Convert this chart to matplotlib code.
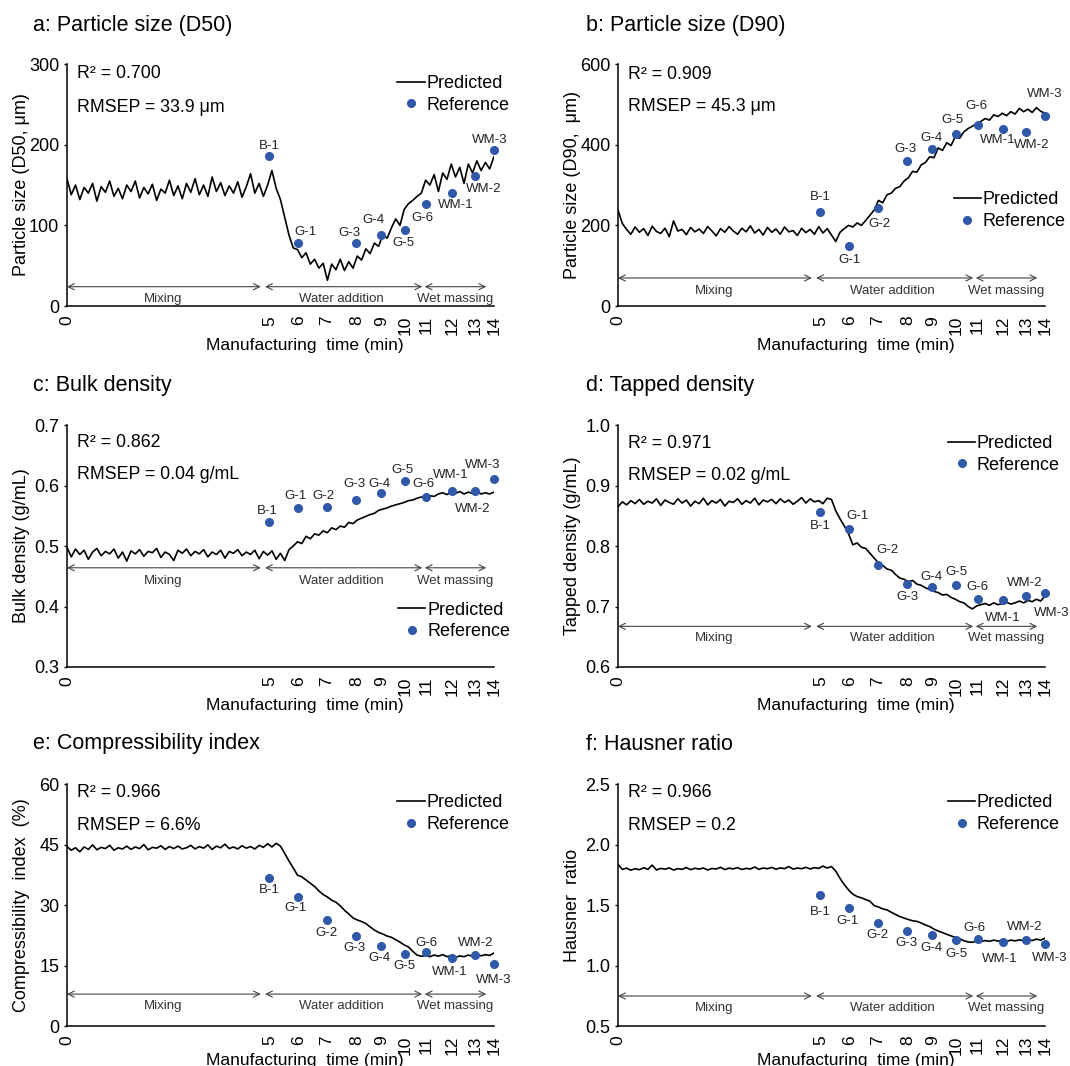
# NIR in-line predictions vs reference values during high-shear granulation
import numpy as np
import matplotlib.pyplot as plt

plt.rcParams['font.family'] = ['Liberation Sans', 'DejaVu Sans']

# x axis is the spectrum number; time labels sit at the sampling points
time_labels = ['0', '5', '6', '7', '8', '9', '10', '11', '12', '13', '14']
time_pos = [0, 237, 271, 304, 339, 368, 396, 421, 451, 478, 500]

sample_names = ['B-1', 'G-1', 'G-2', 'G-3', 'G-4', 'G-5', 'G-6', 'WM-1', 'WM-2', 'WM-3']
sample_pos = time_pos[1:]

pred_x = list(range(0, 505, 5))

d50_pred = [158, 138, 150, 132, 147, 140, 152, 130, 148, 141, 155, 136, 146, 133, 150, 142, 155, 134, 147, 139,
            151, 131, 145, 140, 156, 137, 149, 133, 152, 141, 158, 138, 150, 136, 160, 142, 153, 137, 149, 140,
            154, 135, 148, 164, 140, 152, 136, 150, 168, 146, 132, 110, 88, 72, 70, 60, 66, 52, 58, 47,
            53, 32, 52, 45, 58, 44, 55, 47, 62, 57, 71, 65, 78, 74, 89, 84, 97, 108, 100, 120,
            127, 131, 136, 140, 156, 150, 163, 142, 165, 157, 176, 160, 172, 152, 176, 165, 180, 168, 178, 170,
            185]
d50_ref = [186, 78.6, np.nan, 77.7, 87.5, 94.2, 127, 140, 161, 193.5]

d90_pred = [238, 205, 190, 178, 196, 183, 192, 175, 198, 185, 180, 193, 172, 211, 186, 190, 177, 195, 184, 191,
            180, 197, 186, 174, 192, 183, 197, 186, 178, 193, 184, 199, 181, 190, 176, 195, 183, 191, 178, 196,
            184, 187, 175, 193, 182, 190, 178, 197, 181, 192, 176, 160, 183, 192, 200, 196, 206, 200, 212, 225,
            238, 262, 256, 276, 280, 292, 296, 310, 318, 334, 332, 350, 356, 370, 368, 392, 386, 405, 398, 420,
            416, 432, 440, 446, 452, 458, 465, 461, 474, 470, 478, 472, 482, 476, 490, 482, 488, 480, 492, 483,
            478]
d90_ref = [233, 148, 242, 359, 390, 426, 449, 439, 431, 472]

bulk_pred = [0.498, 0.482, 0.495, 0.486, 0.493, 0.478, 0.490, 0.496, 0.484, 0.491, 0.487, 0.495, 0.480, 0.490,
             0.475, 0.492, 0.487, 0.494, 0.483, 0.491, 0.489, 0.496, 0.481, 0.490, 0.486, 0.476, 0.493, 0.488,
             0.495, 0.484, 0.491, 0.487, 0.494, 0.482, 0.490, 0.486, 0.493, 0.480, 0.491, 0.488, 0.494, 0.484,
             0.490, 0.486, 0.493, 0.479, 0.491, 0.485, 0.492, 0.478, 0.488, 0.476, 0.494, 0.500, 0.507, 0.504,
             0.516, 0.512, 0.520, 0.518, 0.525, 0.522, 0.530, 0.527, 0.533, 0.531, 0.539, 0.537, 0.543, 0.546,
             0.549, 0.552, 0.554, 0.559, 0.561, 0.563, 0.566, 0.568, 0.570, 0.572, 0.575, 0.576, 0.579, 0.581,
             0.580, 0.583, 0.582, 0.586, 0.588, 0.585, 0.589, 0.587, 0.590, 0.586, 0.589, 0.587, 0.590, 0.586,
             0.588, 0.586, 0.589]
bulk_ref = [0.540, 0.562, 0.564, 0.576, 0.588, 0.607, 0.581, 0.591, 0.591, 0.611]

tapped_pred = [0.865, 0.873, 0.868, 0.875, 0.870, 0.877, 0.869, 0.874, 0.871, 0.878, 0.867, 0.876, 0.872, 0.869,
               0.878, 0.871, 0.876, 0.866, 0.874, 0.870, 0.879, 0.868, 0.875, 0.871, 0.877, 0.866, 0.874, 0.872,
               0.878, 0.869, 0.875, 0.871, 0.879, 0.868, 0.876, 0.873, 0.877, 0.870, 0.878, 0.872, 0.876, 0.869,
               0.874, 0.880, 0.871, 0.878, 0.873, 0.875, 0.870, 0.879, 0.877, 0.858, 0.845, 0.833, 0.820, 0.802,
               0.805, 0.798, 0.796, 0.788, 0.780, 0.772, 0.768, 0.762, 0.760, 0.753, 0.747, 0.745, 0.741, 0.743,
               0.737, 0.735, 0.731, 0.728, 0.725, 0.723, 0.719, 0.720, 0.715, 0.712, 0.708, 0.706, 0.700, 0.696,
               0.701, 0.703, 0.705, 0.702, 0.706, 0.703, 0.705, 0.707, 0.704, 0.706, 0.709, 0.706, 0.710, 0.708,
               0.712, 0.709, 0.717]
tapped_ref = [0.856, 0.828, 0.769, 0.738, 0.732, 0.736, 0.712, 0.710, 0.717, 0.723]

ci_pred = [44.5, 43.6, 44.2, 43.2, 44.4, 43.8, 44.9, 43.7, 44.3, 44.0, 44.8, 43.6, 44.2, 43.9, 44.6, 43.8, 44.4,
           44.0, 45.0, 43.7, 44.3, 44.1, 44.7, 43.8, 44.5, 44.0, 44.6, 43.9, 44.2, 44.8, 43.9, 44.5, 44.1, 44.9,
           43.8, 44.6, 44.2, 45.1, 44.0, 44.4, 43.9, 44.7, 44.1, 44.5, 43.9, 44.8, 44.3, 45.2, 44.4, 45.3, 44.6,
           42.8, 40.9, 39.2, 37.4, 37.0, 36.2, 35.4, 34.6, 33.5, 32.6, 32.0, 31.2, 30.7, 29.8, 28.7, 27.8, 26.8,
           26.3, 25.9, 25.4, 24.6, 23.8, 23.2, 22.8, 22.3, 22.0, 21.4, 20.8, 20.1, 19.6, 18.5, 17.6, 17.3, 17.5,
           17.2, 17.6, 17.3, 17.7, 17.2, 17.5, 17.0, 17.4, 17.2, 17.6, 17.3, 17.8, 17.4, 17.7, 17.5, 18.1]
ci_ref = [36.8, 31.9, 26.3, 22.2, 19.9, 17.8, 18.3, 16.8, 17.6, 15.3]

hr_pred = [1.836, 1.795, 1.805, 1.788, 1.800, 1.792, 1.808, 1.795, 1.830, 1.790, 1.803, 1.796, 1.807, 1.789,
           1.801, 1.795, 1.810, 1.792, 1.804, 1.797, 1.806, 1.790, 1.802, 1.798, 1.812, 1.793, 1.805, 1.799,
           1.809, 1.794, 1.803, 1.798, 1.814, 1.795, 1.806, 1.800, 1.811, 1.796, 1.807, 1.801, 1.818, 1.797,
           1.806, 1.800, 1.812, 1.798, 1.809, 1.803, 1.822, 1.806, 1.818, 1.780, 1.720, 1.668, 1.625, 1.590,
           1.570, 1.560, 1.545, 1.532, 1.495, 1.484, 1.468, 1.460, 1.440, 1.422, 1.405, 1.392, 1.380, 1.370,
           1.365, 1.352, 1.335, 1.322, 1.301, 1.285, 1.272, 1.258, 1.245, 1.232, 1.222, 1.205, 1.195, 1.192,
           1.203, 1.198, 1.206, 1.200, 1.210, 1.202, 1.207, 1.199, 1.210, 1.204, 1.212, 1.206, 1.214, 1.207,
           1.218, 1.210, 1.226]
hr_ref = [1.582, 1.472, 1.353, 1.282, 1.249, 1.215, 1.220, 1.198, 1.215, 1.175]

phase_names = ['Mixing', 'Water addition', 'Wet massing']
phase_arrows = [(0, 227), (232, 416), (419, 491)]
phase_text_x = [113, 321, 454]

dot_color = '#2f58a8'

# one dict per panel: layout bits
panels = [
    dict(title='a: Particle size (D50)', ylabel='Particle size (D50, μm)', pred=d50_pred, ref=d50_ref,
         ylim=(0, 300), yticks=[0, 100, 200, 300], fmt='{:.0f}', r2='R² = 0.700', rmsep='RMSEP = 33.9 μm',
         stat_y=(0.959, 0.822), leg=(0.774, 0.875), arr_y=(0.08, 0.028),
         offs=[(0, 10), (7, 11), (0, 0), (-7, 10), (-8, 15), (-2, -13), (-4, -14), (4, -12), (9, -13), (-4, 10)]),
    dict(title='b: Particle size (D90)', ylabel='Particle size (D90,  μm)', pred=d90_pred, ref=d90_ref,
         ylim=(0, 600), yticks=[0, 200, 400, 600], fmt='{:.0f}', r2='R² = 0.909', rmsep='RMSEP = 45.3 μm',
         stat_y=(0.957, 0.823), leg=(0.786, 0.394), arr_y=(0.116, 0.063),
         offs=[(0, 15), (0, -14), (2, -16), (-2, 12), (-1, 11), (-4, 14), (-1, 19), (-5, -11), (6, -13), (0, 22)]),
    dict(title='c: Bulk density', ylabel='Bulk density (g/mL)', pred=bulk_pred, ref=bulk_ref,
         ylim=(0.3, 0.7), yticks=[0.3, 0.4, 0.5, 0.6, 0.7], fmt='{:.1f}', r2='R² = 0.862',
         rmsep='RMSEP = 0.04 g/mL', stat_y=(0.928, 0.797), leg=(0.776, 0.191), arr_y=(0.41, 0.357),
         offs=[(-2, 11), (-3, 12), (-3, 11), (-2, 16), (-2, 9), (-3, 11), (-3, 13), (-1, 16), (-2, -18), (-11, 14)]),
    dict(title='d: Tapped density', ylabel='Tapped density (g/mL)', pred=tapped_pred, ref=tapped_ref,
         ylim=(0.6, 1.0), yticks=[0.6, 0.7, 0.8, 0.9, 1.0], fmt='{:.1f}', r2='R² = 0.971',
         rmsep='RMSEP = 0.02 g/mL', stat_y=(0.922, 0.792), leg=(0.773, 0.878), arr_y=(0.168, 0.118),
         offs=[(0, -14), (8, 13), (10, 15), (0, -13), (-1, 10), (0, 13), (0, 12), (0, -18), (-1, 13), (7, -20)]),
    dict(title='e: Compressibility index', ylabel='Compressibility  index  (%)', pred=ci_pred, ref=ci_ref,
         ylim=(0, 60), yticks=[0, 15, 30, 45, 60], fmt='{:.0f}', r2='R² = 0.966', rmsep='RMSEP = 6.6%',
         stat_y=(0.963, 0.83), leg=(0.774, 0.878), arr_y=(0.132, 0.083),
         offs=[(0, -12), (-3, -11), (0, -13), (-2, -12), (-2, -12), (-1, -12), (0, 9), (-2, -14), (1, 12), (0, -16)]),
    dict(title='f: Hausner ratio', ylabel='Hausner  ratio', pred=hr_pred, ref=hr_ref,
         ylim=(0.5, 2.5), yticks=[0.5, 1.0, 1.5, 2.0, 2.5], fmt='{:.1f}', r2='R² = 0.966', rmsep='RMSEP = 0.2',
         stat_y=(0.963, 0.83), leg=(0.773, 0.878), arr_y=(0.124, 0.075),
         offs=[(0, -17), (-2, -13), (0, -12), (-1, -12), (-1, -13), (0, -14), (-3, 11), (-3, -17), (-1, 13), (5, -14)]),
]

fig = plt.figure(figsize=(10.7, 10.66), dpi=100)

lefts = [0.0626, 0.5776]
bottoms = [0.7129, 0.3743, 0.0375]
title_y = [1 - 25.6 / 1066, 1 - 386 / 1066, 1 - 744 / 1066]
title_x = [33 / 1070, 586 / 1070]
xlabel_y = [-0.13, -0.13, -0.11]

for i, p in enumerate(panels):
    row, col = divmod(i, 2)
    ax = fig.add_axes([lefts[col], bottoms[row], 0.399, 0.227])

    ax.plot(pred_x, p['pred'], color='black', lw=1.2, label='Predicted')
    ax.plot(sample_pos, p['ref'], ls='none', marker='o', ms=5.5, color=dot_color,
            label='Reference', clip_on=False, zorder=3)

    for name, xp, yv, off in zip(sample_names, sample_pos, p['ref'], p['offs']):
        if np.isnan(yv):
            continue
        ax.annotate(name, (xp, yv), xytext=off, textcoords='offset pixels',
                    ha='center', va='center', fontsize=9.5, color='#222222')

    # process phase arrows
    for name, (x0, x1), xt in zip(phase_names, phase_arrows, phase_text_x):
        ax.annotate('', xy=(x1, p['arr_y'][0]), xytext=(x0, p['arr_y'][0]),
                    xycoords=('data', 'axes fraction'), textcoords=('data', 'axes fraction'),
                    arrowprops=dict(arrowstyle='<->', lw=0.8, color='#444444',
                                    shrinkA=0, shrinkB=0, mutation_scale=11))
        ax.text(xt, p['arr_y'][1], name, transform=ax.get_xaxis_transform(),
                ha='center', va='center', fontsize=9.5, color='#333333')

    ax.text(0.023, p['stat_y'][0], p['r2'], transform=ax.transAxes, ha='left', va='center', fontsize=12.8)
    ax.text(0.023, p['stat_y'][1], p['rmsep'], transform=ax.transAxes, ha='left', va='center', fontsize=12.8)

    ax.legend(loc='center left', bbox_to_anchor=p['leg'], frameon=False, fontsize=13,
              handlelength=1.5, handletextpad=0.1, labelspacing=0.25, borderpad=0,
              borderaxespad=0, numpoints=1)

    ax.set_xlim(0, 500)
    ax.set_ylim(*p['ylim'])
    ax.set_xticks(time_pos)
    ax.set_xticklabels(time_labels, rotation=90, fontsize=12.5)
    ax.set_yticks(p['yticks'])
    ax.set_yticklabels([p['fmt'].format(v) for v in p['yticks']], fontsize=13)
    ax.tick_params(axis='x', length=0, pad=7)
    ax.tick_params(axis='y', length=2.5, width=1, pad=3)

    for s in ['top', 'right']:
        ax.spines[s].set_visible(False)
    for s in ['left', 'bottom']:
        ax.spines[s].set_linewidth(1.1)

    ax.set_ylabel(p['ylabel'], fontsize=13)
    ax.yaxis.set_label_coords(-0.087, 0.5)
    ax.set_xlabel('Manufacturing  time (min)', fontsize=12.5)
    ax.xaxis.set_label_coords(0.556, xlabel_y[row])

    fig.text(title_x[col], title_y[row], p['title'], ha='left', va='center', fontsize=15.5)

fig.savefig('out.png', dpi=100)
